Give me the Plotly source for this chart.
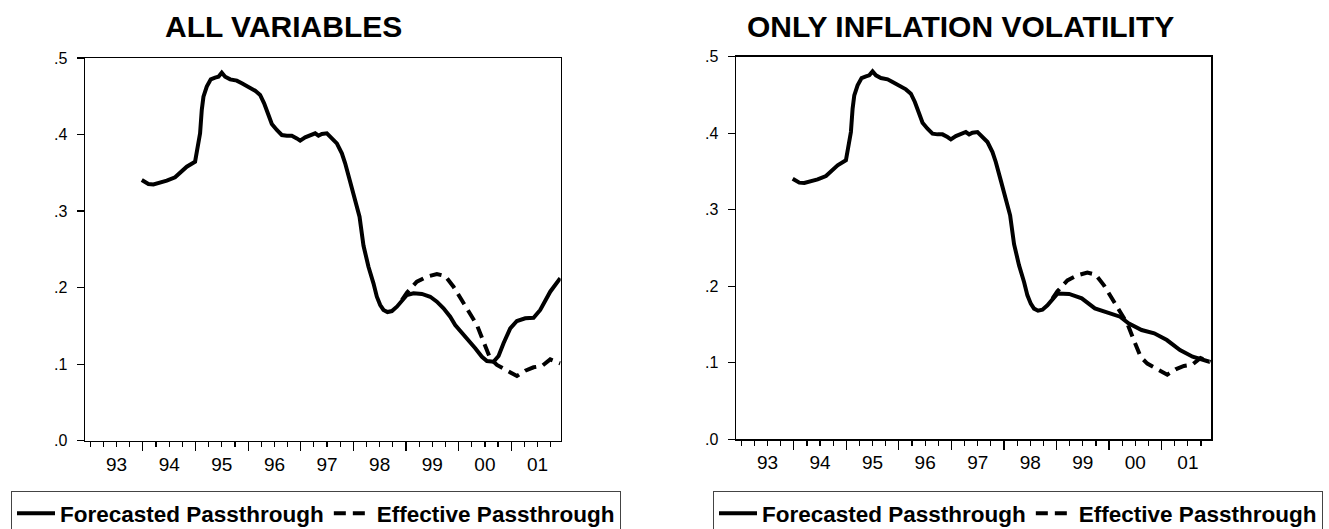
import plotly.graph_objects as go

W, H = 1329, 529

# ---- data (decimal years, passthrough values) ----
years_common = [1993.979, 1994.105, 1994.200, 1994.454, 1994.612, 1994.739, 1994.834, 1994.992,
                1995.037, 1995.087, 1995.119, 1995.151, 1995.214, 1995.290, 1995.373, 1995.436,
                1995.499, 1995.563, 1995.658, 1995.785, 1995.880, 1996.006, 1996.133, 1996.228,
                1996.304, 1996.387, 1996.450, 1996.545, 1996.640, 1996.735, 1996.830, 1996.925,
                1996.989, 1997.084, 1997.179, 1997.274, 1997.337, 1997.401, 1997.496, 1997.591,
                1997.686, 1997.781, 1997.844, 1997.939, 1998.034, 1998.117, 1998.192, 1998.287,
                1998.382, 1998.446, 1998.510, 1998.572, 1998.648, 1998.732, 1998.827, 1998.922,
                1999.017]
fc_common = [0.3406, 0.3354, 0.3349, 0.3397, 0.3441, 0.3528, 0.3580, 0.3646,
             0.3798, 0.4016, 0.4321, 0.4495, 0.4626, 0.4721, 0.4743, 0.4756,
             0.4808, 0.4756, 0.4721, 0.4704, 0.4669, 0.4617, 0.4573, 0.4517,
             0.4408, 0.4255, 0.4138, 0.4059, 0.3994, 0.3985, 0.3985, 0.3950,
             0.3920, 0.3963, 0.3994, 0.4016, 0.3985, 0.4007, 0.4016, 0.3950,
             0.3885, 0.3754, 0.3624, 0.3384, 0.3145, 0.2927, 0.2550, 0.2273,
             0.2056, 0.1881, 0.1773, 0.1708, 0.1681, 0.1694, 0.1751, 0.1838,
             0.1904]

years_all_tail = [1999.143, 1999.302, 1999.460, 1999.587, 1999.713, 1999.840, 1999.935, 2000.062,
                  2000.189, 2000.316, 2000.443, 2000.538, 2000.664, 2000.759, 2000.854, 2000.981,
                  2001.108, 2001.266, 2001.424, 2001.551, 2001.741, 2001.931]
fc_all_tail = [0.1926, 0.1917, 0.1881, 0.1816, 0.1730, 0.1620, 0.1512, 0.1411,
               0.1325, 0.1207, 0.1097, 0.1041, 0.1032, 0.1107, 0.1273, 0.1468,
               0.1564, 0.1599, 0.1607, 0.1708, 0.1947, 0.2122]

years_vol_tail = [1999.240, 1999.480, 1999.730, 1999.970, 2000.210, 2000.370, 2000.620, 2000.860,
                  2001.100, 2001.350, 2001.590, 2001.910]
fc_vol_tail = [0.1900, 0.1842, 0.1711, 0.1654, 0.1602, 0.1515, 0.1428, 0.1385,
               0.1297, 0.1167, 0.1080, 0.1014]

years_eff = [1998.922, 1999.017, 1999.207, 1999.397, 1999.587, 1999.745, 1999.903, 2000.062,
             2000.221, 2000.348, 2000.473, 2000.601, 2000.728, 2000.886, 2001.108, 2001.266,
             2001.424, 2001.583, 2001.741, 2001.931]
eff = [0.1838, 0.1934, 0.2077, 0.2143, 0.2178, 0.2152, 0.2012, 0.1838,
       0.1664, 0.1512, 0.1293, 0.1077, 0.0989, 0.0924, 0.0845, 0.0915,
       0.0959, 0.0976, 0.1063, 0.1011]

year_labels = ["93", "94", "95", "96", "97", "98", "99", "00", "01"]
year_starts = [1993 + i for i in range(9)]
y_ticks = [0.0, 0.1, 0.2, 0.3, 0.4, 0.5]
y_labels = [".0", ".1", ".2", ".3", ".4", ".5"]
titles = ["ALL VARIABLES", "ONLY INFLATION VOLATILITY"]
names = ["Forecasted Passthrough", "Effective Passthrough"]

FONT = "Arial, Liberation Sans, Helvetica, sans-serif"
X_RANGE = [1992.90, 2001.94]

# panel boxes in pixels: (left, right, top, bottom)
panels = [(85, 560.7, 58, 440.7), (736, 1211, 56.7, 439.3)]
title_cx = [283, 960]
legend_left = [11, 713]


def px(x):
    return x / W


def py(y):
    return 1 - y / H


fig = go.Figure()
series = [
    (years_common + years_all_tail, fc_common + fc_all_tail),
    (years_common + years_vol_tail, fc_common + fc_vol_tail),
]
for i, (xs, ys) in enumerate(series):
    xa = "x" if i == 0 else "x2"
    ya = "y" if i == 0 else "y2"
    lg = "legend" if i == 0 else "legend2"
    fig.add_trace(go.Scatter(x=xs, y=ys, mode="lines", name=names[0], xaxis=xa, yaxis=ya,
                             legend=lg, line=dict(color="black", width=4)))
    fig.add_trace(go.Scatter(x=years_eff, y=eff, mode="lines", name=names[1], xaxis=xa, yaxis=ya,
                             legend=lg, line=dict(color="black", width=4, dash="12px,7px")))
    # empty placeholder so the year-label axis of this panel gets drawn
    fig.add_trace(go.Scatter(x=[], y=[], mode="lines", xaxis="x" + str(3 + i), yaxis=ya,
                             showlegend=False, hoverinfo="skip"))

layout = dict(
    width=W, height=H, autosize=False,
    margin=dict(l=0, r=0, t=0, b=0, pad=0, autoexpand=False),
    paper_bgcolor="white", plot_bgcolor="white",
    font=dict(family=FONT, color="black"),
    annotations=[],
)

for i, (l, r, t, b) in enumerate(panels):
    n = "" if i == 0 else "2"
    lab = str(3 + i)
    ycode = "y" + n
    layout["xaxis" + n] = dict(
        domain=[px(l), px(r)], range=X_RANGE, anchor=ycode,
        tickmode="array", tickvals=year_starts[1:], ticks="outside", ticklen=9,
        tickwidth=1.2, tickcolor="black", showticklabels=False,
        minor=dict(tickmode="linear", tick0=1993, dtick=0.25, ticks="outside",
                   ticklen=5, tickwidth=1.2, tickcolor="black"),
        showline=True, linecolor="black", linewidth=1.5, mirror=True,
        showgrid=False, zeroline=False, fixedrange=True,
    )
    layout["xaxis" + lab] = dict(
        overlaying="x" + n, anchor=ycode, range=X_RANGE, side="bottom",
        tickmode="array", tickvals=[y + 0.5 for y in year_starts], ticktext=year_labels,
        ticks="", showline=False, showgrid=False, zeroline=False, fixedrange=True,
        tickfont=dict(size=19, family=FONT, color="black"), ticklabelstandoff=10,
    )
    layout["yaxis" + n] = dict(
        domain=[py(b), py(t)], range=[0, 0.5], anchor="x" + n,
        tickmode="array", tickvals=y_ticks, ticktext=y_labels,
        ticks="outside", ticklen=7, tickwidth=1.2, tickcolor="black",
        tickfont=dict(size=16, family=FONT, color="black"), ticklabelstandoff=6,
        showline=True, linecolor="black", linewidth=1.5, mirror=True,
        showgrid=False, zeroline=False, fixedrange=True,
    )
    layout["annotations"].append(dict(
        text="<b>%s</b>" % titles[i], x=px(title_cx[i]), y=py(26), xref="paper", yref="paper",
        xanchor="center", yanchor="middle", showarrow=False,
        font=dict(size=30, family=FONT, color="black"),
    ))
    layout["legend" + n] = dict(
        x=px(legend_left[i]), y=py(491), xanchor="left", yanchor="top",
        orientation="h", bordercolor="#444444", borderwidth=1, bgcolor="white",
        font=dict(size=22.5, family=FONT, color="black", weight="bold"),
        itemwidth=38, tracegroupgap=0,
    )

fig.update_layout(**layout)
fig.write_html("out.html", config={"displayModeBar": False, "staticPlot": True},
               post_script="document.body.style.margin='0';document.body.style.overflow='hidden';")
